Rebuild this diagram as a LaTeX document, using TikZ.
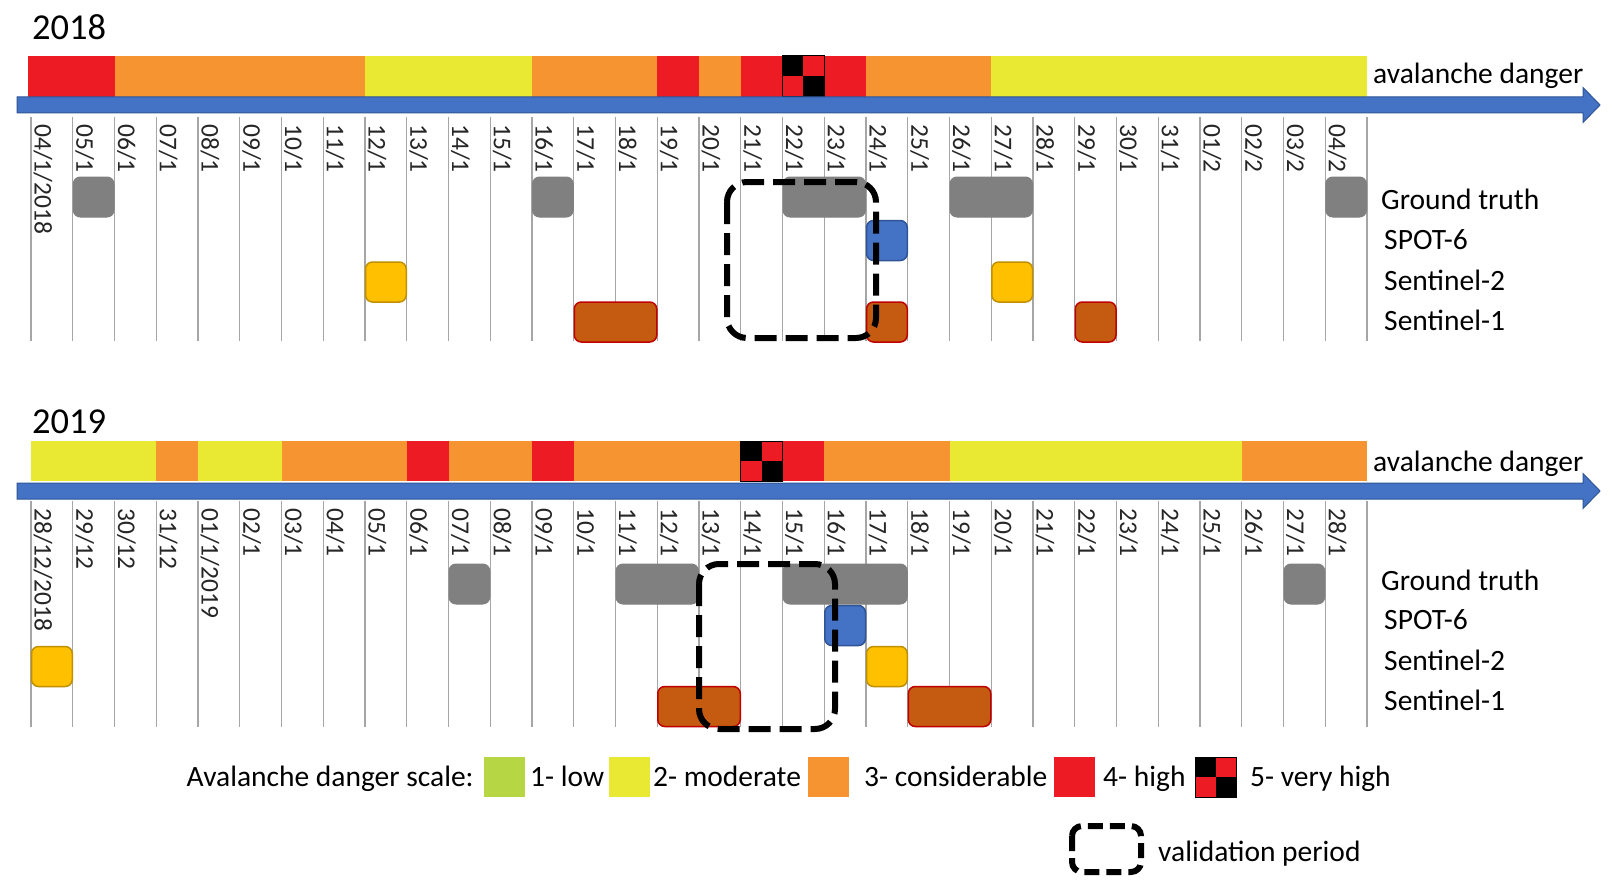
\documentclass[tikz,border=0pt]{standalone}
\usepackage{fontspec}
\setmainfont{Carlito}
\definecolor{dRed}{RGB}{237,28,36}
\definecolor{dOrange}{RGB}{247,148,50}
\definecolor{dYellow}{RGB}{233,232,50}
\definecolor{dGreen}{RGB}{183,214,68}
\definecolor{arrBlue}{RGB}{68,114,196}
\definecolor{arrBorder}{RGB}{47,85,151}
\definecolor{gtGray}{RGB}{128,128,128}
\definecolor{s2Fill}{RGB}{255,192,0}
\definecolor{s2Border}{RGB}{191,144,0}
\definecolor{s1Fill}{RGB}{197,90,17}
\definecolor{s1Border}{RGB}{192,0,0}
\definecolor{gridGray}{RGB}{166,166,166}
\tikzset{
  gtbox/.style={fill=gtGray, draw=gtGray, line width=1pt, rounded corners=7pt},
  spotbox/.style={fill=arrBlue, draw=arrBorder, line width=1.5pt, rounded corners=7pt},
  sIIbox/.style={fill=s2Fill, draw=s2Border, line width=1.5pt, rounded corners=7pt},
  sIbox/.style={fill=s1Fill, draw=s1Border, line width=1.5pt, rounded corners=7pt},
  gridline/.style={draw=gridGray, line width=1.3pt},
  datelab/.style={rotate=-90, anchor=base west, inner sep=0pt, text=black!85,
    font=\fontsize{25.5}{30}\selectfont},
  biglab/.style={anchor=base west, inner sep=0pt, font=\fontsize{29.5}{34}\selectfont},
  yearlab/.style={anchor=base west, inner sep=0pt, font=\fontsize{36.5}{42}\selectfont},
  timearrow/.style={fill=arrBlue, draw=arrBorder, line width=1pt},
  validbox/.style={draw=black, line width=6pt, dash pattern=on 22pt off 9pt, rounded corners=20pt},
  legsq/.style={minimum width=41pt, minimum height=40pt, inner sep=0pt, anchor=north west},
}
\newcommand\obsbox[5]{%
  \pgfmathsetmacro\obsx{31+41.75*#4+0.5}%
  \pgfmathsetmacro\obsw{41.75*#5-1}%
  \node[#2, anchor=north west, minimum width=\obsw pt, minimum height=40pt,
        inner sep=0pt, outer sep=0pt] (#1) at (\obsx,#3) {};}
\newcommand\barseg[5]{%
  \fill[#5] ({31+41.75*#3},#1) rectangle ({31+41.75*#4},#2);}
\newcommand\checkcell[4]{% x left, y top, width, height
  \pgfmathsetmacro\cxb{#1+#3}%
  \pgfmathsetmacro\cxm{#1+#3/2}%
  \pgfmathsetmacro\cyb{#2+#4}%
  \pgfmathsetmacro\cym{#2+#4/2}%
  \fill[dRed] (#1,#2) rectangle (\cxb,\cyb);
  \fill[black] (#1,#2) rectangle (\cxm,\cym);
  \fill[black] (\cxm,\cym) rectangle (\cxb,\cyb);
  \draw[black, line width=1pt] (#1,#2) rectangle (\cxb,\cyb);}
\begin{document}
\begin{tikzpicture}[x=1pt,y=-1pt]
\useasboundingbox (0,0) rectangle (1619,888);
\fill[white] (0,0) rectangle (1619,888);

% ================= 2018 =================
\node[yearlab] (y18) at (32,39.3) {2018};
% danger bar
\fill[dRed] (28,56) rectangle ({31+41.75*2},97);
\barseg{56}{97}{2}{8}{dOrange}
\barseg{56}{97}{8}{12}{dYellow}
\barseg{56}{97}{12}{15}{dOrange}
\barseg{56}{97}{15}{16}{dRed}
\barseg{56}{97}{16}{17}{dOrange}
\barseg{56}{97}{17}{18}{dRed}
\barseg{56}{97}{19}{20}{dRed}
\barseg{56}{97}{20}{23}{dOrange}
\barseg{56}{97}{23}{32}{dYellow}
\checkcell{782.5}{56}{41.75}{41}
% arrow
\draw[timearrow] (17,97) -- (1583,97) -- (1583,87.5) -- (1600,105) -- (1583,122.5) -- (1583,113) -- (17,113) -- cycle;
\node[biglab] (ad18) at (1373,84) {avalanche danger};
% grid
\foreach \i in {0,...,32} \draw[gridline] ({31+41.75*\i},117) -- ({31+41.75*\i},341);
% dates
\foreach \lab [count=\i from 0] in {04/1/2018,05/1,06/1,07/1,08/1,09/1,10/1,11/1,12/1,13/1,14/1,15/1,16/1,17/1,18/1,19/1,20/1,21/1,22/1,23/1,24/1,25/1,26/1,27/1,28/1,29/1,30/1,31/1,01/2,02/2,03/2,04/2}
  \node[datelab] (da\i) at ({31+41.75*\i+3.5},124) {\lab};
% observations
\obsbox{ga1}{gtbox}{177}{1}{1}
\obsbox{ga2}{gtbox}{177}{12}{1}
\obsbox{ga3}{gtbox}{177}{18}{2}
\obsbox{ga4}{gtbox}{177}{22}{2}
\obsbox{ga5}{gtbox}{177}{31}{1}
\obsbox{pa1}{spotbox}{220.5}{20}{1}
\obsbox{sa1}{sIIbox}{262}{8}{1}
\obsbox{sa2}{sIIbox}{262}{23}{1}
\obsbox{ra1}{sIbox}{302}{13}{2}
\obsbox{ra2}{sIbox}{302}{20}{1}
\obsbox{ra3}{sIbox}{302}{25}{1}
\draw[validbox] (727,182) rectangle (876,338);
% row labels
\node[biglab] (lg18) at (1381,209.3) {Ground truth};
\node[biglab] (lp18) at (1384,249.5) {SPOT-6};
\node[biglab] (ls18) at (1384,290) {Sentinel-2};
\node[biglab] (lr18) at (1384,330) {Sentinel-1};

% ================= 2019 =================
\node[yearlab] (y19) at (32,433.3) {2019};
\barseg{441}{481}{0}{3}{dYellow}
\barseg{441}{481}{3}{4}{dOrange}
\barseg{441}{481}{4}{6}{dYellow}
\barseg{441}{481}{6}{9}{dOrange}
\barseg{441}{481}{9}{10}{dRed}
\barseg{441}{481}{10}{12}{dOrange}
\barseg{441}{481}{12}{13}{dRed}
\barseg{441}{481}{13}{17}{dOrange}
\barseg{441}{481}{18}{19}{dRed}
\barseg{441}{481}{19}{22}{dOrange}
\barseg{441}{481}{22}{29}{dYellow}
\barseg{441}{481}{29}{32}{dOrange}
\checkcell{740.75}{441}{41.75}{40}
\draw[timearrow] (17,483) -- (1583,483) -- (1583,473.5) -- (1600,491) -- (1583,508.5) -- (1583,499) -- (17,499) -- cycle;
\node[biglab] (ad19) at (1373,471.5) {avalanche danger};
\foreach \i in {0,...,32} \draw[gridline] ({31+41.75*\i},501) -- ({31+41.75*\i},727);
\foreach \lab [count=\i from 0] in {28/12/2018,29/12,30/12,31/12,01/1/2019,02/1,03/1,04/1,05/1,06/1,07/1,08/1,09/1,10/1,11/1,12/1,13/1,14/1,15/1,16/1,17/1,18/1,19/1,20/1,21/1,22/1,23/1,24/1,25/1,26/1,27/1,28/1}
  \node[datelab] (db\i) at ({31+41.75*\i+3.5},508) {\lab};
\obsbox{gb1}{gtbox}{564}{10}{1}
\obsbox{gb2}{gtbox}{564}{14}{2}
\obsbox{gb3}{gtbox}{564}{18}{3}
\obsbox{gb4}{gtbox}{564}{30}{1}
\obsbox{pb1}{spotbox}{605.5}{19}{1}
\obsbox{sb1}{sIIbox}{646.5}{0}{1}
\obsbox{sb2}{sIIbox}{646.5}{20}{1}
\obsbox{rb1}{sIbox}{686.5}{15}{2}
\obsbox{rb2}{sIbox}{686.5}{21}{2}
\draw[validbox] (699,564) rectangle (835,729);
\node[biglab] (lg19) at (1381,590) {Ground truth};
\node[biglab] (lp19) at (1384,629.5) {SPOT-6};
\node[biglab] (ls19) at (1384,670) {Sentinel-2};
\node[biglab] (lr19) at (1384,710.5) {Sentinel-1};

% ================= legend =================
\node[biglab] (legt) at (186.5,786.5) {Avalanche danger scale:};
\node[legsq, fill=dGreen] (lq1) at (484,757) {};
\node[biglab] (lt1) at (530,786.5) {1- low};
\node[legsq, fill=dYellow] (lq2) at (609,757) {};
\node[biglab] (lt2) at (653,786.5) {2- moderate};
\node[legsq, fill=dOrange] (lq3) at (808,757) {};
\node[biglab] (lt3) at (864,786.5) {3- considerable};
\node[legsq, fill=dRed] (lq4) at (1054,757) {};
\node[biglab] (lt4) at (1103,786.5) {4- high};
\checkcell{1195}{757}{41}{40}
\node[biglab] (lt5) at (1250,786.5) {5- very high};
\draw[draw=black, line width=6pt, dash pattern=on 15pt off 7pt, rounded corners=10pt] (1072,826) rectangle (1141,872);
\node[biglab] (ltv) at (1158,861) {validation period};
\end{tikzpicture}
\end{document}
